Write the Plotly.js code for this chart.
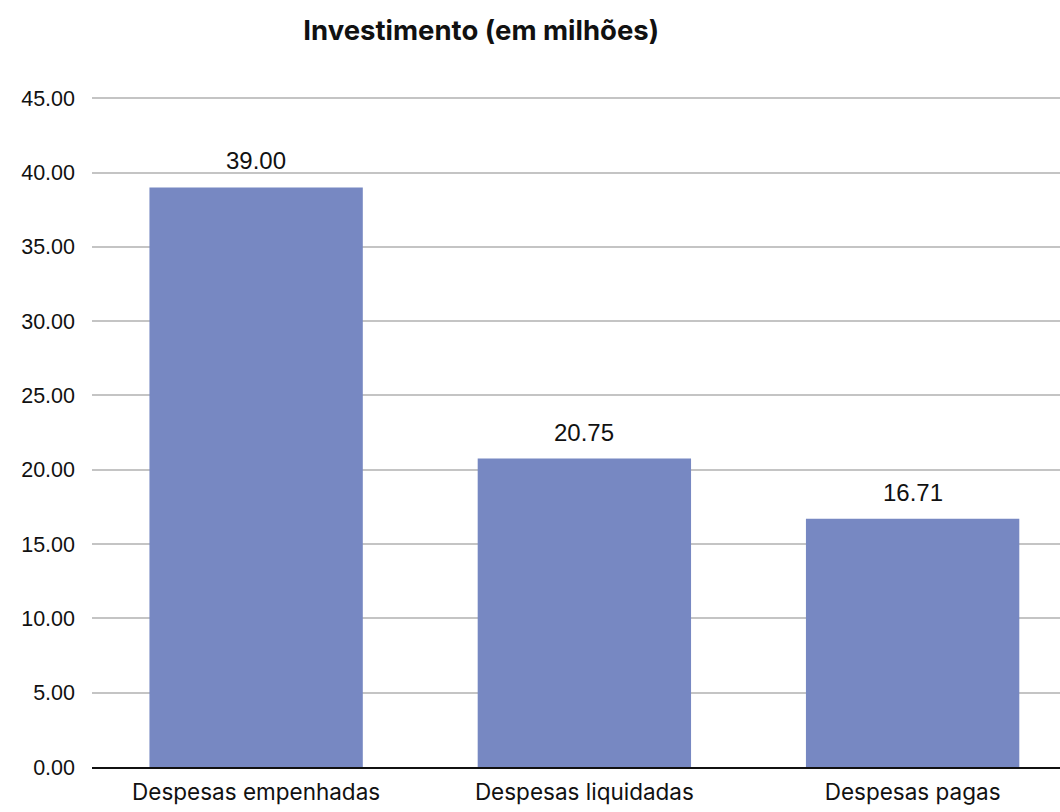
<!DOCTYPE html>
<html>
<head>
<meta charset="utf-8">
<script src="https://cdn.plot.ly/plotly-3.0.1.min.js"></script>
<style>html,body{margin:0;padding:0;background:#fff;overflow:hidden}</style>
</head>
<body>
<div id="chart" style="width:1060px;height:812px"></div>
<script>
const categories = ["Despesas empenhadas", "Despesas liquidadas", "Despesas pagas"];
const values = [39.00, 20.75, 16.71];
const tickValues = [0, 5, 10, 15, 20, 25, 30, 35, 40, 45];
const tickLabels = ["0.00", "5.00", "10.00", "15.00", "20.00", "25.00", "30.00", "35.00", "40.00", "45.00"];
const titleText = "Investimento (em milhões)";

const trace = {
  type: "bar",
  x: categories,
  y: values,
  marker: {color: "#7788C2"},
  width: 0.65,
  hoverinfo: "none"
};

const annotations = categories.map((c, i) => ({
  x: c, y: values[i], xref: "x", yref: "y",
  text: values[i].toFixed(2),
  showarrow: false, yanchor: "bottom", yshift: 11,
  font: {family: "Liberation Sans, Arial, sans-serif", size: 24, color: "#111"}
}));

const layout = {
  width: 1060, height: 812,
  margin: {l: 92, r: 0, t: 96, b: 45},
  paper_bgcolor: "#fff", plot_bgcolor: "#fff",
  showlegend: false,
  title: {
    text: "<b>" + titleText + "</b>",
    x: 0.454, xref: "container", xanchor: "center",
    y: 0.962, yref: "container", yanchor: "middle",
    font: {family: "Inter, sans-serif", size: 27.5, color: "#111"}
  },
  xaxis: {
    type: "category",
    range: [-0.5, 2.449],
    showgrid: false, zeroline: false,
    showline: true, linecolor: "#111", linewidth: 2,
    ticks: "", ticklabelstandoff: 4,
    tickfont: {family: "Inter, sans-serif", size: 22.5, color: "#111"}
  },
  yaxis: {
    range: [0, 45.15],
    tickvals: tickValues, ticktext: tickLabels,
    showgrid: true, gridcolor: "#C4C4C4", gridwidth: 2,
    zeroline: false, showline: false,
    ticks: "", ticklabelstandoff: 16,
    tickfont: {family: "Liberation Sans, Arial, sans-serif", size: 21.5, color: "#111"}
  },
  annotations: annotations
};

Plotly.newPlot("chart", [trace], layout, {staticPlot: true, displayModeBar: false});
</script>
</body>
</html>
